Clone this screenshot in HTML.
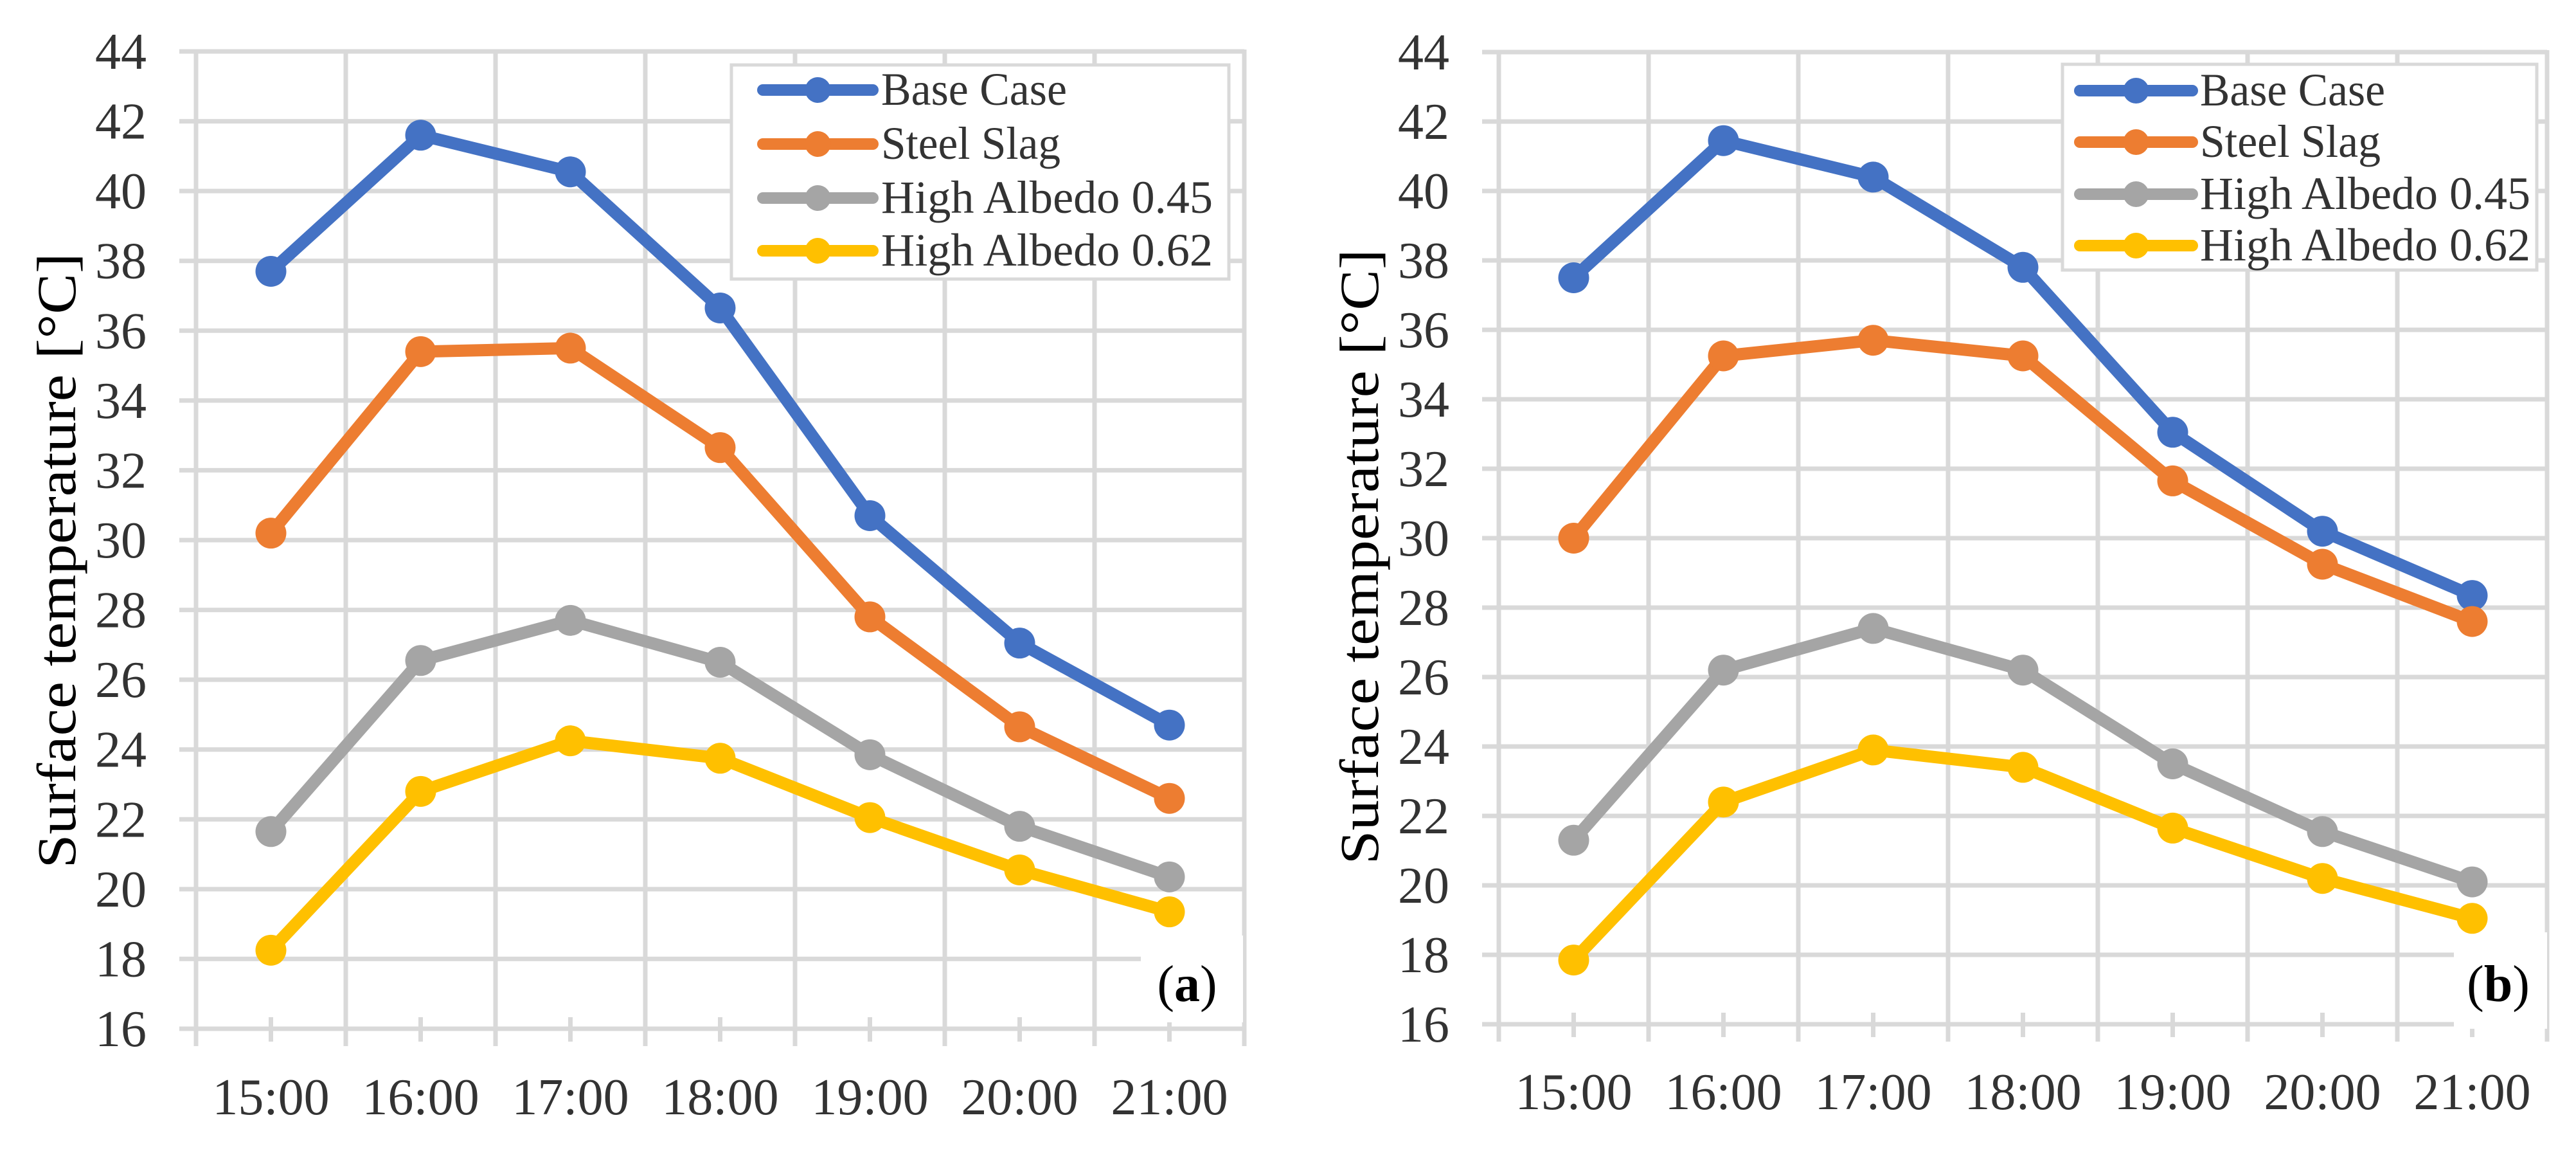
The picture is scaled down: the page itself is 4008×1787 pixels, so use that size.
<!DOCTYPE html>
<html><head><meta charset="utf-8"><style>
html,body{margin:0;padding:0;background:#fff;}
svg{display:block;}
</style></head><body>
<svg id="chart" width="4008" height="1787" viewBox="0 0 4008 1787" xmlns="http://www.w3.org/2000/svg"></svg>
<script>
const categories = ["15:00","16:00","17:00","18:00","19:00","20:00","21:00"];
const yTicks = [16,18,20,22,24,26,28,30,32,34,36,38,40,42,44];
const seriesNames = ["Base Case","Steel Slag","High Albedo 0.45","High Albedo 0.62"];
const aBase = [37.7,41.6,40.55,36.65,30.7,27.05,24.7];
const aSlag = [30.2,35.4,35.5,32.65,27.8,24.65,22.6];
const aHA45 = [21.65,26.55,27.7,26.5,23.85,21.8,20.35];
const aHA62 = [18.25,22.8,24.25,23.75,22.05,20.55,19.35];
const bBase = [37.5,41.45,40.4,37.8,33.05,30.2,28.35];
const bSlag = [30.0,35.25,35.7,35.25,31.65,29.25,27.6];
const bHA45 = [21.3,26.2,27.4,26.2,23.5,21.55,20.1];
const bHA62 = [17.85,22.4,23.9,23.4,21.65,20.2,19.05];

const colors = ["#4472C4","#ED7D31","#A5A5A5","#FFC000"];
const NS = "http://www.w3.org/2000/svg";
const svg = document.getElementById('chart');
function mk(tag, attrs, parent){const e=document.createElementNS(NS,tag);for(const k in attrs)e.setAttribute(k,attrs[k]);(parent||svg).appendChild(e);return e;}

const panels = [
 {id:'a', data:[aBase,aSlag,aHA45,aHA62], left:305, yTop:80, yBot:1600, tickL:279, xlabY:1733, ylabR:228,
  titleX:117, titleY:872, legend:{x:1138,y:101,w:774,h:333,rows:[140,224,308,390],l1:1187,l2:1358,tx:1371,tws:[289,279,516,516]},
  box:{x:1775,y:1455,w:159,h:135}, lbl:{x:1847,y:1557}},
 {id:'b', data:[bBase,bSlag,bHA45,bHA62], left:2332, yTop:81, yBot:1593, tickL:2306, xlabY:1725, ylabR:2255,
  titleX:2144, titleY:866, legend:{x:3209,y:100,w:738,h:320,rows:[141,221,302,382],l1:3236,l2:3411,tx:3423,tws:[288,281,514,514]},
  box:{x:3818,y:1450,w:145,h:150}, lbl:{x:3887,y:1557}}
];
const cw = 233;

panels.forEach(p=>{
  const g = mk('g',{});
  
  
  const right = p.left + cw*categories.length;
  const yScale = v => p.yBot - (v-16)/(44-16)*(p.yBot-p.yTop);
  const xScale = i => p.left + cw*(i+0.5);
  yTicks.forEach(t=>{
    const y=yScale(t);
    const l=mk('line',{x1:p.tickL,x2:right,y1:y,y2:y,stroke:'#D9D9D9','stroke-width':7},g);
    
    
    const tx=mk('text',{x:p.ylabR,y:y+27,'text-anchor':'end','font-family':'Liberation Serif, serif','font-size':80,fill:'#333'},g);
    tx.textContent=t;
    
    
  });
  for(let i=0;i<=categories.length;i++){
    const x=p.left+cw*i;
    const l=mk('line',{x1:x,x2:x,y1:p.yTop-3,y2:p.yBot+27,stroke:'#D9D9D9','stroke-width':7},g);
    
    
  }
  categories.forEach((c,i)=>{
    const x=xScale(i);
    const t=mk('line',{x1:x,x2:x,y1:p.yBot-18,y2:p.yBot+20,stroke:'#D9D9D9','stroke-width':7},g);
    
    
    const tx=mk('text',{x:x,y:p.xlabY,'text-anchor':'middle','font-family':'Liberation Serif, serif','font-size':80,fill:'#333'},g);
    tx.textContent=c;
    
    
  });
  const bx=mk('rect',{x:p.box.x,y:p.box.y,width:p.box.w,height:p.box.h,fill:'#fff'},g);
  
  
  p.data.forEach((arr,si)=>{
    const sg=mk('g',{},g);
    
    
    const pts=arr.map((v,i)=>xScale(i)+','+yScale(v)).join(' ');
    const pl=mk('polyline',{points:pts,fill:'none',stroke:colors[si],'stroke-width':19,'stroke-linejoin':'round'},sg);
    
    
    arr.forEach((v,i)=>{
      const c=mk('circle',{cx:xScale(i),cy:yScale(v),r:24,fill:colors[si]},sg);
      
      
    });
  });
  const tt=mk('text',{x:0,y:0,transform:`translate(${p.titleX},${p.titleY}) rotate(-90)`,'text-anchor':'middle','font-family':'Liberation Serif, serif','font-size':86,fill:'#000',textLength:957,lengthAdjust:'spacingAndGlyphs'},g);
  tt.textContent='Surface temperature [\u00B0C]';
  
  
  const L=p.legend;
  const lg=mk('g',{},g);
  
  
  mk('rect',{x:L.x,y:L.y,width:L.w,height:L.h,fill:'#fff',stroke:'#D9D9D9','stroke-width':5},lg);
  seriesNames.forEach((n,si)=>{
    const y=L.rows[si];
    const eg=mk('g',{},lg);
    
    
    mk('line',{x1:L.l1,x2:L.l2,y1:y,y2:y,stroke:colors[si],'stroke-width':18,'stroke-linecap':'round'},eg);
    mk('circle',{cx:(L.l1+L.l2)/2,cy:y,r:20,fill:colors[si]},eg);
    const t=mk('text',{x:L.tx,y:y+23,'font-family':'Liberation Serif, serif','font-size':72,fill:'#333',textLength:L.tws[si],lengthAdjust:'spacingAndGlyphs'},eg);
    t.textContent=n;
  });
  const pl=mk('text',{x:p.lbl.x,y:p.lbl.y,'text-anchor':'middle','font-family':'Liberation Serif, serif','font-size':80,fill:'#000'},g);
  pl.innerHTML='(<tspan font-weight="bold">'+p.id+'</tspan>)';
  
  
});
</script>
</body></html>
